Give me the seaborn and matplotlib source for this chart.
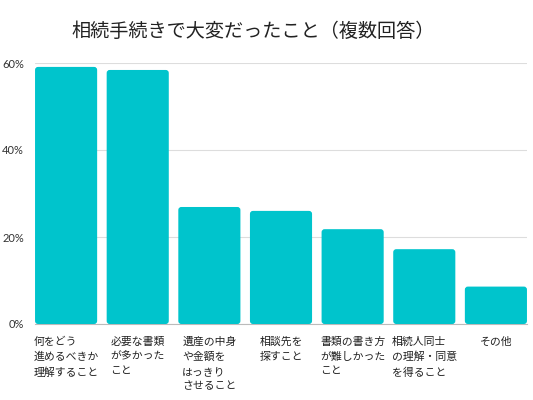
import matplotlib
matplotlib.use("Agg")
import matplotlib.pyplot as plt
import seaborn as sns
import pandas as pd
from matplotlib.patches import FancyBboxPatch
from matplotlib.ticker import FuncFormatter

categories = [
    "何をどう\n進めるべきか\n理解すること",
    "必要な書類\nが多かった\nこと",
    "遺産の中身\nや金額を\nはっきり\nさせること",
    "相談先を\n探すこと",
    "書類の書き方\nが難しかった\nこと",
    "相続人同士\nの理解・同意\nを得ること",
    "その他",
]
values = [59.1, 58.4, 26.9, 26.0, 21.8, 17.2, 8.6]
title = "相続手続きで大変だったこと（複数回答）"

df = pd.DataFrame({"item": categories, "pct": values})

sns.set_theme(style="white")
plt.rcParams["font.family"] = ["Noto Sans CJK JP", "DejaVu Sans"]

fig = plt.figure(figsize=(5.33, 4), dpi=100)
ax = fig.add_axes([35 / 533, 76 / 400, 492 / 533, 261 / 400])

bar_color = "#00C4CC"
sns.barplot(data=df, x="item", y="pct", color=bar_color, width=0.867,
            saturation=1, ax=ax, zorder=3)

# swap plain bars for ones with softly rounded corners
ax.set_ylim(0, 60)
ax.set_xlim(-0.434, 6.434)
bbox = ax.get_window_extent()
px_x = bbox.width / 6.868
px_y = bbox.height / 60
for p in list(ax.patches):
    x, y = p.get_x(), p.get_y()
    w, h = p.get_width(), p.get_height()
    r = 3 / px_x
    rounded = FancyBboxPatch((x, y), w, h,
                             boxstyle=f"round,pad=0,rounding_size={r}",
                             mutation_aspect=px_x / px_y,
                             facecolor=bar_color, edgecolor="none", zorder=3)
    p.remove()
    ax.add_patch(rounded)

ax.set_yticks([0, 20, 40, 60])
ax.yaxis.set_major_formatter(FuncFormatter(lambda v, _: f"{v:.0f}%"))
ax.grid(axis="y", color="#dddddd", linewidth=0.8, zorder=0)
ax.grid(axis="x", visible=False)
for s in ["top", "right", "left"]:
    ax.spines[s].set_visible(False)
ax.spines["bottom"].set_color("#bbbbbb")
ax.spines["bottom"].set_linewidth(0.8)

ax.tick_params(axis="y", length=0, pad=8, labelsize=8, labelcolor="#333333")
ax.tick_params(axis="x", length=0, pad=9, labelsize=7.8, labelcolor="#222222")
for lab in ax.get_xticklabels():
    lab.set_multialignment("left")
    lab.set_linespacing(1.6)
for lab in ax.get_yticklabels():
    lab.set_family(["Lato", "DejaVu Sans"])

ax.set_xlabel("")
ax.set_ylabel("")

fig.text(253 / 533, 1 - 31 / 400, title, ha="center", va="center",
         fontsize=13.8, color="#222222")

fig.savefig("out.png", dpi=100)
